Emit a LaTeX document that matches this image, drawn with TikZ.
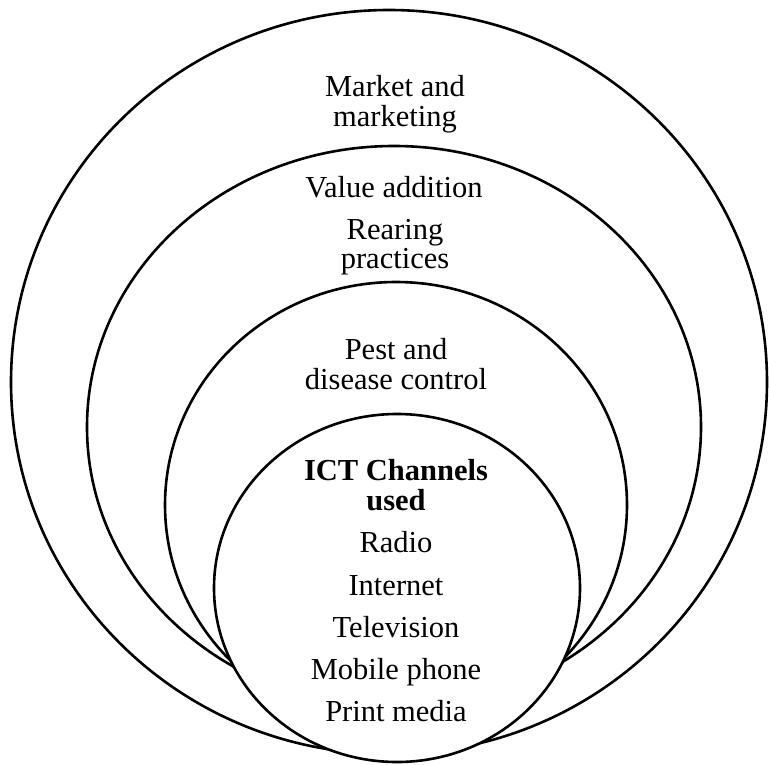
\documentclass[tikz,border=0pt]{standalone}
\usepackage{fontspec}
\setmainfont{Liberation Serif}
\tikzset{
  ring/.style={draw=black, line width=2.6pt, fill=white},
  lbl/.style={anchor=base, inner sep=0pt, font=\fontsize{30.5}{32}\selectfont}
}
\begin{document}
\begin{tikzpicture}[x=1pt,y=-1pt]
\useasboundingbox (0,0) rectangle (769,765);
% nested rings, outer first
\draw[ring] (389,382) ellipse [x radius=378pt, y radius=372pt];
\draw[ring] (394,427) ellipse [x radius=307pt, y radius=281pt];
\draw[ring] (396,505) ellipse [x radius=231pt, y radius=223pt];
\draw[ring] (397,588) ellipse [x radius=183pt, y radius=174pt];
% outer ring
\node[lbl] (mkt) at (395,97) {Market and};
\node[lbl] (mktg) at (395,126.5) {marketing};
% second ring
\node[lbl] (val) at (394,197.5) {Value addition};
\node[lbl] (rear) at (395,240) {Rearing};
\node[lbl] (prac) at (395,269) {practices};
% third ring
\node[lbl] (pest) at (396,359.5) {Pest and};
\node[lbl] (dis) at (396,389) {disease control};
% centre
\node[lbl, font=\fontsize{30.5}{32}\selectfont\bfseries] (ict) at (396,480.5) {ICT Channels};
\node[lbl, font=\fontsize{30.5}{32}\selectfont\bfseries] (used) at (396,510) {used};
\node[lbl] (radio) at (396,552.5) {Radio};
\node[lbl] (net) at (396,595) {Internet};
\node[lbl] (tv) at (396,637) {Television};
\node[lbl] (mob) at (396,679) {Mobile phone};
\node[lbl] (print) at (396,721) {Print media};
\end{tikzpicture}
\end{document}
